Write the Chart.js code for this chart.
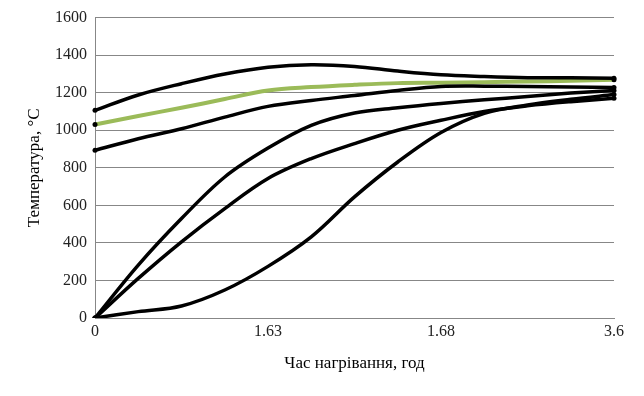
<!DOCTYPE html>
<html>
<head>
<meta charset="utf-8">
<script src="https://cdn.jsdelivr.net/npm/chart.js@4"></script>
<style>
    html, body { margin: 0; padding: 0; background: #fff; }
    #wrap { width: 644px; height: 396px; }
</style>
</head>
<body>
<div id="wrap"><canvas id="heatChart" width="644" height="396"></canvas></div>
<script>
// Time categories (only every 4th one carries a label)
const categories = ['0', '', '', '', '1.63', '', '', '', '1.68', '', '', '', '3.6'];

// Temperature curves, °C
const curveTop    = [1106, 1188, 1248, 1300, 1336, 1349, 1340, 1315, 1295, 1286, 1280, 1279, 1277];
const curveGreen  = [1031, 1076, 1120, 1166, 1212, 1230, 1242, 1251, 1253, 1256, 1260, 1263, 1269];
const curveMid    = [893, 955, 1008, 1070, 1127, 1159, 1185, 1212, 1233, 1235, 1233, 1230, 1228];
const curveFast   = [0, 282, 530, 751, 905, 1026, 1092, 1120, 1143, 1162, 1180, 1198, 1212];
const curveMedium = [0, 211, 406, 583, 743, 849, 929, 1000, 1053, 1100, 1130, 1152, 1170];
const curveSlow   = [0, 34, 64, 149, 275, 432, 645, 831, 988, 1090, 1135, 1165, 1190];

const yTicks = { min: 0, max: 1600, step: 200 };

const serif = 'Liberation Serif, Times New Roman, serif';

function endDot(ctx) {
    const last = categories.length - 1;
    return (ctx.dataIndex === 0 || ctx.dataIndex === last) ? 2.5 : 0;
}

function line(data, color, width) {
    return {
        data: data,
        borderColor: color,
        borderWidth: width,
        pointRadius: endDot,
        pointBackgroundColor: '#000',
        pointBorderWidth: 0,
        tension: 0.35,
        fill: false
    };
}

const ctx = document.getElementById('heatChart').getContext('2d');
new Chart(ctx, {
    type: 'line',
    data: {
        labels: categories,
        datasets: [
            line(curveSlow, '#000', 3.5),
            line(curveMedium, '#000', 3.5),
            line(curveFast, '#000', 3.5),
            line(curveMid, '#000', 3.5),
            line(curveTop, '#000', 3.5),
            line(curveGreen, '#9BBB59', 4)
        ]
    },
    options: {
        responsive: false,
        animation: false,
        layout: { padding: { top: 17, right: 30, left: 0, bottom: 0 } },
        plugins: {
            legend: { display: false },
            tooltip: { enabled: false }
        },
        scales: {
            x: {
                type: 'category',
                offset: false,
                grid: { display: false, drawTicks: false },
                border: { display: true, color: '#878787', width: 1 },
                ticks: {
                    autoSkip: false,
                    maxRotation: 0,
                    padding: 4,
                    color: '#222',
                    font: { family: serif, size: 16 }
                },
                title: {
                    display: true,
                    text: 'Час нагрівання, год',
                    color: '#000',
                    font: { family: serif, size: 17 },
                    padding: { top: 0, bottom: 22 }
                },
                afterFit: s => { s.height = 78; }
            },
            y: {
                min: yTicks.min,
                max: yTicks.max,
                grid: { color: '#878787', lineWidth: 1, drawTicks: false },
                border: { display: true, color: '#878787', width: 1 },
                ticks: {
                    stepSize: yTicks.step,
                    padding: 8,
                    color: '#222',
                    font: { family: serif, size: 16 },
                    callback: v => String(v)
                },
                title: {
                    display: true,
                    text: 'Температура, °C',
                    color: '#000',
                    font: { family: serif, size: 17 },
                    padding: { top: 24, bottom: 0 }
                },
                afterFit: s => { s.width = 95; }
            }
        }
    }
});
</script>
</body>
</html>
